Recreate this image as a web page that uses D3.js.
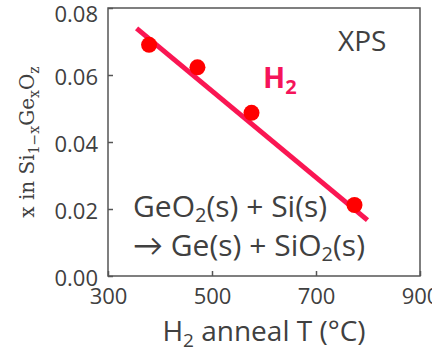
<!DOCTYPE html>
<html>
<head>
<meta charset="utf-8">
<script src="https://cdn.jsdelivr.net/npm/d3@7"></script>
<style>
  body { margin: 0; background: #fff; }
  svg text { font-family: "Open Sans", Lato, sans-serif; fill: #404040; }
</style>
</head>
<body>
<svg id="chart" width="432" height="355"></svg>
<script>
// measured XPS points (H2 anneal)
const annealT = [379, 472, 576, 774];
const geFraction = [0.0690, 0.0623, 0.0487, 0.0212];
// fitted trend line end points
const fitT = [355, 799];
const fitX = [0.0739, 0.0167];
const xTicks = [300, 500, 700, 900];
const yTicks = [0, 0.02, 0.04, 0.06, 0.08];

const margin = { top: 8, right: 12, bottom: 79, left: 108 };
const width = 432 - margin.left - margin.right;
const height = 355 - margin.top - margin.bottom;

const svg = d3.select('#chart');
const g = svg.append('g')
    .attr('transform', 'translate(' + margin.left + ',' + margin.top + ')');

const x = d3.scaleLinear().domain([300, 900]).range([0, width]);
const y = d3.scaleLinear().domain([0, 0.08]).range([height, 0]);

// frame
g.append('rect')
    .attr('width', width)
    .attr('height', height)
    .attr('fill', 'none')
    .attr('stroke', '#555')
    .attr('stroke-width', 1.5);

const xAxis = d3.axisBottom(x).tickValues(xTicks)
    .tickSizeInner(-5).tickSizeOuter(0).tickPadding(12)
    .tickFormat(d3.format('d'));
const yAxis = d3.axisLeft(y).tickValues(yTicks)
    .tickSizeInner(-5).tickSizeOuter(0).tickPadding(10)
    .tickFormat(d3.format('.2f'));

const gx = g.append('g')
    .attr('transform', 'translate(0,' + height + ')')
    .call(xAxis);
const gy = g.append('g').call(yAxis);

[gx, gy].forEach(a => {
    a.select('.domain').remove();
    a.selectAll('.tick line').attr('stroke', '#555').attr('stroke-width', 1.5);
    a.selectAll('.tick text').style('font-size', '22px').attr('fill', '#404040');
});
gy.selectAll('.tick text').attr('dy', (d, i) => i === yTicks.length - 1 ? '0.6em' : '0.45em');
gx.selectAll('.tick text').attr('dy', '0.71em');

// trend line
g.append('line')
    .attr('x1', x(fitT[0])).attr('y1', y(fitX[0]))
    .attr('x2', x(fitT[1])).attr('y2', y(fitX[1]))
    .attr('stroke', '#fa1653')
    .attr('stroke-width', 5);

// points
g.selectAll('.pt').data(annealT).enter()
    .append('circle')
    .attr('class', 'pt')
    .attr('cx', d => x(d))
    .attr('cy', (d, i) => y(geFraction[i]))
    .attr('r', 8)
    .attr('fill', '#ff0000');

// labels inside plot
g.append('text')
    .attr('x', 230).attr('y', 43)
    .style('font-size', '28px')
    .text('XPS');

const h2 = g.append('text')
    .attr('x', 155).attr('y', 80)
    .style('font-size', '29px')
    .style('font-weight', 'bold')
    .style('fill', '#f5145a');
h2.append('tspan').text('H');
h2.append('tspan').attr('dy', 6).style('font-size', '20px').text('2');

const r1 = g.append('text')
    .attr('x', 25).attr('y', 209)
    .style('font-size', '30px');
r1.append('tspan').text('GeO');
r1.append('tspan').attr('dy', 5).style('font-size', '20px').text('2');
r1.append('tspan').attr('dy', -5).text('(s) + Si(s)');

const r2 = g.append('text')
    .attr('x', 25).attr('y', 248)
    .style('font-size', '30px');
r2.append('tspan').text('\u2192 Ge(s) + SiO');
r2.append('tspan').attr('dy', 5).style('font-size', '20px').text('2');
r2.append('tspan').attr('dy', -5).text('(s)');

// axis titles
const xt = svg.append('text')
    .attr('x', margin.left + width / 2)
    .attr('y', 341)
    .attr('text-anchor', 'middle')
    .style('font-size', '28px');
xt.append('tspan').text('H');
xt.append('tspan').attr('dy', 6).style('font-size', '19px').text('2');
xt.append('tspan').attr('dy', -6).text(' anneal T (\u00b0C)');

const yt = svg.append('text')
    .attr('transform', 'translate(34,' + (margin.top + height / 2) + ') rotate(-90)')
    .attr('text-anchor', 'middle')
    .style('font-family', '"DejaVu Serif", serif')
    .style('font-size', '20px');
yt.append('tspan').text('x in Si');
yt.append('tspan').attr('dy', 5).style('font-size', '14px').text('1\u2212x');
yt.append('tspan').attr('dy', -5).text('Ge');
yt.append('tspan').attr('dy', 5).style('font-size', '14px').text('x');
yt.append('tspan').attr('dy', -5).text('O');
yt.append('tspan').attr('dy', 5).style('font-size', '14px').text('z');
</script>
</body>
</html>
